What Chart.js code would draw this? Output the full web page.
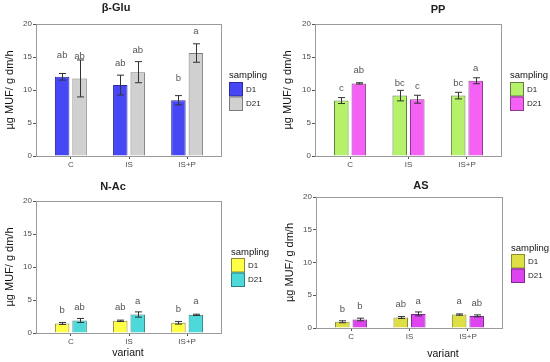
<!DOCTYPE html>
<html>
<head>
<meta charset="utf-8">
<script src="https://cdn.jsdelivr.net/npm/chart.js@4.4.1/dist/chart.umd.min.js"></script>
<style>
    body { margin: 0; background: #fff; }
    #wrap { position: relative; width: 550px; height: 362px; }
    #wrap canvas { position: absolute; }
</style>
</head>
<body>
<div id="wrap">
    <canvas id="c-glu" width="275" height="181" style="left:0;top:0"></canvas>
    <canvas id="c-pp" width="275" height="181" style="left:275px;top:0"></canvas>
    <canvas id="c-nac" width="275" height="181" style="left:0;top:181px"></canvas>
    <canvas id="c-as" width="275" height="181" style="left:275px;top:181px"></canvas>
</div>
<script>
    // shared
    const categories = ['C', 'IS', 'IS+P'];
    const samplings = ['D1', 'D21'];
    const yTicks = [0, 5, 10, 15, 20];

    // beta-Glu
    const gluD1 = [12.0, 10.75, 8.45];
    const gluD1Err = [0.5, 1.5, 0.7];
    const gluD21 = [11.75, 12.7, 15.6];
    const gluD21Err = [2.8, 1.6, 1.4];
    const gluD1Letters = ['ab', 'ab', 'b'];
    const gluD21Letters = ['ab', 'ab', 'a'];

    // PP
    const ppD1 = [8.4, 9.15, 9.15];
    const ppD1Err = [0.45, 0.8, 0.5];
    const ppD21 = [11.0, 8.6, 11.4];
    const ppD21Err = [0.1, 0.6, 0.45];
    const ppD1Letters = ['c', 'bc', 'bc'];
    const ppD21Letters = ['ab', 'c', 'a'];

    // N-Ac
    const nacD1 = [1.45, 1.85, 1.55];
    const nacD1Err = [0.15, 0.1, 0.2];
    const nacD21 = [1.9, 2.8, 2.75];
    const nacD21Err = [0.3, 0.4, 0.1];
    const nacD1Letters = ['b', 'ab', 'b'];
    const nacD21Letters = ['ab', 'a', 'a'];

    // AS
    const asD1 = [0.95, 1.6, 2.05];
    const asD1Err = [0.15, 0.15, 0.1];
    const asD21 = [1.3, 2.15, 1.85];
    const asD21Err = [0.2, 0.3, 0.15];
    const asD1Letters = ['b', 'ab', 'a'];
    const asD21Letters = ['b', 'a', 'ab'];

    const FONT = '"Liberation Sans", Arial, sans-serif';
    const yTitle = 'µg MUF/ g dm/h';

    // draws panel frame, error bars, letters, titles and legend
    const ggPlugin = {
        id: 'gg',
        afterDatasetsDraw(chart) {
            const p = chart.options.plugins.gg;
            const ctx = chart.ctx;
            const a = chart.chartArea;
            const ys = chart.scales.y;
            ctx.save();
            // frame
            ctx.strokeStyle = '#9a9a9a';
            ctx.lineWidth = 1;
            ctx.strokeRect(Math.round(a.left) + 0.5, Math.round(a.top) + 0.5,
                Math.round(a.right - a.left) - 1, Math.round(a.bottom - a.top));
            // error bars + letters
            chart.data.datasets.forEach((ds, di) => {
                const meta = chart.getDatasetMeta(di);
                meta.data.forEach((bar, i) => {
                    const v = ds.data[i], e = ds.err[i];
                    const x = Math.round(bar.x) + 0.5;
                    const yHi = ys.getPixelForValue(v + e), yLo = ys.getPixelForValue(v - e);
                    ctx.strokeStyle = '#333';
                    ctx.lineWidth = 1;
                    ctx.beginPath();
                    ctx.moveTo(x, yHi); ctx.lineTo(x, yLo);
                    ctx.moveTo(x - 3.5, yHi); ctx.lineTo(x + 3.5, yHi);
                    ctx.moveTo(x - 3.5, yLo); ctx.lineTo(x + 3.5, yLo);
                    ctx.stroke();
                    ctx.fillStyle = '#555';
                    ctx.font = '9.5px ' + FONT;
                    ctx.textAlign = 'center';
                    ctx.textBaseline = 'middle';
                    ctx.fillText(ds.letters[i], bar.x, ys.getPixelForValue(v + p.letterOffset));
                });
            });
            // title
            ctx.fillStyle = '#222';
            ctx.font = 'bold 11px ' + FONT;
            ctx.textAlign = 'center';
            ctx.textBaseline = 'middle';
            ctx.fillText(p.title, p.titleX, p.titleY);
            // y axis title
            ctx.save();
            ctx.translate(p.yTitleX, (a.top + a.bottom) / 2);
            ctx.rotate(-Math.PI / 2);
            ctx.font = '11px ' + FONT;
            ctx.fillStyle = '#111';
            ctx.fillText(yTitle, 0, 0);
            ctx.restore();
            // x axis title
            if (p.xTitle) {
                ctx.font = '10.5px ' + FONT;
                ctx.fillStyle = '#111';
                ctx.fillText(p.xTitle, p.xTitleX, p.xTitleY);
            }
            // legend
            ctx.textAlign = 'left';
            ctx.font = '9.5px ' + FONT;
            ctx.fillStyle = '#111';
            ctx.fillText('sampling', p.legX, p.legY);
            chart.data.datasets.forEach((ds, di) => {
                const top = p.legBoxTop + di * 14.5;
                ctx.fillStyle = ds.backgroundColor;
                ctx.fillRect(p.legX, top, 14, 14.5);
                ctx.strokeStyle = ds.borderColor;
                ctx.strokeRect(p.legX + 0.5, top + 0.5, 13, 13.5);
                ctx.fillStyle = '#222';
                ctx.font = '8px ' + FONT;
                ctx.fillText(ds.label, p.legX + 17, top + 7.5);
            });
            ctx.restore();
        }
    };

    function makePanel(id, d1, d1Err, d21, d21Err, l1, l21, colors, layout) {
        const area = layout.area;
        new Chart(document.getElementById(id), {
            type: 'bar',
            data: {
                labels: categories,
                datasets: [
                    { label: samplings[0], data: d1, err: d1Err, letters: l1,
                      backgroundColor: colors[0], borderColor: colors[1], borderWidth: 1 },
                    { label: samplings[1], data: d21, err: d21Err, letters: l21,
                      backgroundColor: colors[2], borderColor: colors[3], borderWidth: 1 }
                ]
            },
            options: {
                responsive: false,
                animation: false,
                categoryPercentage: 0.6,
                barPercentage: 0.83,
                layout: { padding: { left: 0, top: area.t, right: 275 - area.r, bottom: 181 - area.b - 20 } },
                scales: {
                    x: {
                        offset: true,
                        afterBuildTicks: s => { s._startValue = -0.6; s._valueRange = 3.2; },
                        afterFit: s => { s.height = 20; },
                        grid: { offset: false, drawOnChartArea: false, drawTicks: true, tickLength: 3, color: '#555' },
                        border: { display: false },
                        ticks: { color: '#4d4d4d', font: { family: FONT, size: 8 }, padding: 1, maxRotation: 0 }
                    },
                    y: {
                        min: 0, max: 20,
                        afterBuildTicks: s => { s.ticks = yTicks.map(v => ({ value: v })); },
                        afterFit: s => { s.width = area.l; },
                        grid: { drawOnChartArea: false, drawTicks: true, tickLength: 3, color: '#555' },
                        border: { display: false },
                        ticks: { color: '#4d4d4d', font: { family: FONT, size: 8 }, padding: 1 }
                    }
                },
                plugins: {
                    legend: { display: false },
                    tooltip: { enabled: false },
                    gg: layout
                }
            },
            plugins: [ggPlugin]
        });
    }

    makePanel('c-glu', gluD1, gluD1Err, gluD21, gluD21Err, gluD1Letters, gluD21Letters,
        ['#4747f5', '#2b2b9e', '#d0d0d0', '#7c7c7c'],
        { area: { l: 36, r: 222, t: 24, b: 156 }, title: 'β-Glu', titleX: 116, titleY: 8,
          yTitleX: 10, letterOffset: 3.3, legX: 229, legY: 75, legBoxTop: 82 });

    makePanel('c-pp', ppD1, ppD1Err, ppD21, ppD21Err, ppD1Letters, ppD21Letters,
        ['#b5f26a', '#5f7d45', '#f561f5', '#8a3a8a'],
        { area: { l: 40, r: 227, t: 24, b: 156 }, title: 'PP', titleX: 163, titleY: 10,
          yTitleX: 13, letterOffset: 1.9, legX: 235, legY: 75, legBoxTop: 82 });

    makePanel('c-nac', nacD1, nacD1Err, nacD21, nacD21Err, nacD1Letters, nacD21Letters,
        ['#ffff45', '#8a8a3a', '#4dd9d9', '#2a7f7f'],
        { area: { l: 36, r: 222, t: 20, b: 152 }, title: 'N-Ac', titleX: 113, titleY: 6,
          yTitleX: 10, letterOffset: 2.05, legX: 231, legY: 71, legBoxTop: 77,
          xTitle: 'variant', xTitleX: 128, xTitleY: 172 });

    makePanel('c-as', asD1, asD1Err, asD21, asD21Err, asD1Letters, asD21Letters,
        ['#dede45', '#8a8a30', '#dd44f0', '#7a2a8a'],
        { area: { l: 41, r: 228, t: 16, b: 147 }, title: 'AS', titleX: 146, titleY: 5,
          yTitleX: 15, letterOffset: 1.95, legX: 236, legY: 67, legBoxTop: 73,
          xTitle: 'variant', xTitleX: 168, xTitleY: 173 });
</script>
</body>
</html>
